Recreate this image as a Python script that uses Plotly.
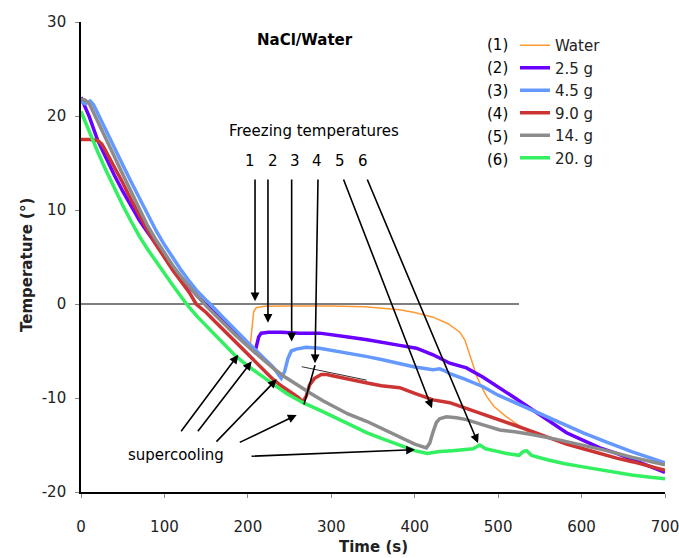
import plotly.graph_objects as go

# ---------------- data ----------------
series_names = ["Water", "2.5 g", "4.5 g", "9.0 g", "14. g", "20. g"]
series_nums = ["(1)", "(2)", "(3)", "(4)", "(5)", "(6)"]

t_water = [185, 195, 203, 205, 207, 210, 220, 250, 300, 340, 382, 400, 422, 440, 454,
           460, 466, 470, 474, 480, 486, 495, 510, 525, 538, 542]
T_water = [-3.2, -3.9, -4.3, -2.5, -0.8, -0.4, -0.25, -0.2, -0.2, -0.3, -0.6, -0.9, -1.4,
           -2.1, -3.0, -3.8, -5.3, -6.5, -7.6, -8.8, -9.8, -10.9, -12.0, -12.9, -13.7, -14.0]

t_25 = [0, 5, 10, 20, 30, 40, 50, 60, 70, 80, 90, 100, 110, 120, 130, 140, 150, 160, 170,
        180, 190, 200, 208, 210, 213, 216, 225, 240, 262, 286, 300, 320, 343, 360, 382, 402,
        422, 442, 462, 482, 502, 522, 542, 562, 582, 602, 622, 642, 662, 680, 700]
T_25 = [22.0, 21.0, 19.9, 17.4, 15.5, 13.7, 12.0, 10.4, 8.9, 7.6, 6.3, 5.1, 3.9, 2.8, 1.8,
        0.8, -0.1, -1.0, -1.9, -2.8, -3.6, -4.4, -5.1, -4.6, -3.5, -3.1, -3.0, -3.0, -3.1,
        -3.1, -3.3, -3.5, -3.8, -4.1, -4.4, -4.7, -5.4, -6.3, -6.8, -7.8, -8.9, -10.1, -11.3,
        -12.5, -13.7, -14.5, -15.3, -15.9, -16.6, -17.3, -17.9]

t_45 = [0, 5, 11, 15, 20, 30, 40, 50, 60, 70, 83, 90, 100, 110, 120, 130, 140, 150, 155,
        170, 185, 200, 215, 230, 240, 244, 248, 252, 258, 270, 286, 300, 320, 343, 360, 382,
        400, 422, 430, 436, 442, 460, 482, 500, 520, 542, 570, 602, 630, 660, 700]
T_45 = [21.5, 21.3, 21.6, 21.2, 20.3, 18.4, 16.6, 14.8, 13.0, 11.2, 8.9, 7.8, 6.3, 4.9, 3.6,
        2.4, 1.3, 0.4, 0.0, -1.4, -2.8, -4.1, -5.4, -6.7, -7.9, -7.2, -5.8, -5.0, -4.8, -4.6,
        -4.7, -4.9, -5.2, -5.6, -5.9, -6.3, -6.7, -7.0, -6.9, -7.1, -7.4, -8.0, -8.8, -9.7,
        -10.5, -11.3, -12.4, -13.7, -14.7, -15.7, -16.9]

t_90 = [0, 10, 20, 25, 30, 40, 50, 60, 70, 80, 90, 100, 110, 120, 130, 138, 150, 160, 170,
        180, 190, 200, 210, 220, 230, 240, 250, 260, 266, 270, 274, 280, 288, 295, 300, 320,
        343, 360, 382, 400, 422, 442, 462, 482, 502, 520, 542, 562, 582, 602, 622, 642, 662, 700]
T_90 = [17.5, 17.5, 17.4, 17.0, 16.2, 14.6, 12.9, 11.1, 9.4, 7.8, 6.3, 4.9, 3.6, 2.4, 1.2,
        0.0, -0.9, -1.8, -2.7, -3.6, -4.5, -5.4, -6.3, -7.1, -8.0, -8.7, -9.3, -9.9, -10.4,
        -9.8, -8.6, -7.9, -7.5, -7.5, -7.6, -8.0, -8.4, -8.7, -8.9, -9.5, -10.2, -10.5, -11.1,
        -11.7, -12.3, -12.9, -13.6, -14.3, -14.9, -15.4, -15.9, -16.4, -16.8, -17.7]

t_14 = [0, 5, 10, 20, 30, 40, 50, 60, 70, 80, 90, 100, 110, 120, 130, 140, 150, 160, 170,
        185, 200, 215, 230, 245, 260, 275, 290, 300, 320, 343, 360, 382, 400, 414, 418, 422,
        426, 430, 438, 450, 462, 480, 502, 520, 542, 570, 602, 630, 660, 700]
T_14 = [21.8, 21.7, 21.3, 19.5, 17.6, 15.7, 13.8, 11.9, 10.0, 8.3, 6.8, 5.4, 4.1, 2.9, 1.8,
        0.8, -0.2, -1.1, -2.0, -3.3, -4.5, -5.7, -6.8, -7.8, -8.7, -9.5, -10.3, -10.8, -11.7,
        -12.5, -13.2, -14.1, -14.9, -15.3, -14.8, -13.6, -12.6, -12.2, -12.0, -12.1, -12.3,
        -12.8, -13.4, -13.6, -13.9, -14.4, -15.0, -15.6, -16.3, -17.1]

t_20 = [0, 10, 20, 30, 40, 50, 60, 70, 80, 90, 100, 110, 124, 130, 140, 155, 170, 185, 200,
        215, 230, 246, 266, 286, 300, 320, 343, 360, 382, 400, 415, 430, 445, 460, 470, 478,
        485, 495, 510, 525, 530, 534, 540, 560, 580, 600, 620, 640, 660, 680, 700]
T_20 = [20.5, 18.3, 16.2, 14.2, 12.3, 10.5, 8.8, 7.2, 5.8, 4.5, 3.2, 2.0, 0.3, -0.4, -1.4,
        -2.8, -4.2, -5.5, -6.6, -7.6, -8.5, -9.5, -10.5, -11.3, -11.9, -12.8, -13.7, -14.3,
        -15.0, -15.6, -15.9, -15.7, -15.6, -15.5, -15.4, -15.0, -15.4, -15.6, -15.9, -16.1,
        -15.7, -15.6, -16.1, -16.6, -17.0, -17.3, -17.6, -17.9, -18.2, -18.4, -18.6]

x_ticks = [0, 100, 200, 300, 400, 500, 600, 700]
x_tick_text = ["0", "100", "200", "300", "400", "500", "600", "700"]
y_ticks = [-20, -10, 0, 10, 20, 30]
y_tick_text = ["-20", "-10", "0", "10", "20", "30"]

# annotation texts / anchor points (data units)
freeze_labels = ["1", "2", "3", "4", "5", "6"]
freeze_label_t = [202.6, 229.8, 256.5, 282.5, 310.4, 337.6]
freeze_label_T = 15.2
freeze_tail_t = [208.6, 224.1, 252.5, 284.1, 314.0, 342.4]
freeze_tail_T = 13.4
freeze_tip_t = [208.6, 224.1, 252.5, 280.5, 420.7, 475.9]
freeze_tip_T = [0.3, -2.0, -4.0, -6.3, -11.1, -14.8]

super_tail_t = [118.7, 138.7, 160.6, 188.5, 202.6]
super_tail_T = [-13.7, -13.7, -14.8, -14.8, -16.2]
super_tip_t = [188.5, 204.6, 234.6, 258.5, 400.3]
super_tip_T = [-5.4, -6.1, -8.0, -11.8, -15.5]

colors = ["#FF9933", "#6A00FF", "#6699FF", "#CC3333", "#8C8C8C", "#33F060"]
widths = [1.5, 3.5, 3.5, 3.5, 3.5, 3.5]

FONT = "DejaVu Sans"

fig = go.Figure()
all_t = [t_water, t_25, t_45, t_90, t_14, t_20]
all_T = [T_water, T_25, T_45, T_90, T_14, T_20]
for name, tt, TT, c, w in zip(series_names, all_t, all_T, colors, widths):
    fig.add_trace(go.Scatter(
        x=tt, y=TT, name=name, mode="lines",
        line=dict(color=c, width=w),
    ))

# zero reference line
fig.add_shape(type="line", x0=0, x1=525, y0=0, y1=0, xref="x", yref="y",
              line=dict(color="#555555", width=1.3), layer="below")
# tangent line over 9.0 g plateau
fig.add_shape(type="line", x0=264.5, y0=-6.67, x1=342.4, y1=-8.1, xref="x", yref="y",
              line=dict(color="#333333", width=1))
# continuation of arrow 4 to the supercooling minimum
fig.add_shape(type="line", x0=280.5, y0=-6.5, x1=267.3, y1=-10.7, xref="x", yref="y",
              line=dict(color="black", width=1.6))

W, H = 679, 558
L, T_ = 81, 22
pw, ph = 584, 470
R, B = W - L - pw, H - T_ - ph


def px(xw):   # window pixel x -> paper x
    return (xw - L) / pw


def py(yw):   # window pixel y -> paper y
    return 1 - (yw - T_) / ph


ann = []
ann.append(dict(x=268.5, y=28.1, text="<b>NaCl/Water</b>", showarrow=False,
                font=dict(size=15, family=FONT, color="black")))
ann.append(dict(x=279, y=18.4, text="Freezing temperatures", showarrow=False,
                font=dict(size=15, family=FONT, color="black")))
for lab, lt in zip(freeze_labels, freeze_label_t):
    ann.append(dict(x=lt, y=freeze_label_T, text=lab, showarrow=False,
                    font=dict(size=15, family=FONT, color="black")))
for tx, hx, hy in zip(freeze_tail_t, freeze_tip_t, freeze_tip_T):
    ann.append(dict(x=hx, y=hy, ax=tx, ay=freeze_tail_T, axref="x", ayref="y",
                    xref="x", yref="y", text="", showarrow=True, arrowhead=2,
                    arrowsize=1.1, arrowwidth=1.6, arrowcolor="black", standoff=0))
ann.append(dict(x=113.3, y=-16.1, text="supercooling", showarrow=False,
                font=dict(size=15, family=FONT, color="black")))
for tx, ty, hx, hy in zip(super_tail_t, super_tail_T, super_tip_t, super_tip_T):
    ann.append(dict(x=hx, y=hy, ax=tx, ay=ty, axref="x", ayref="y",
                    xref="x", yref="y", text="", showarrow=True, arrowhead=2,
                    arrowsize=1.1, arrowwidth=1.6, arrowcolor="black", standoff=0))
# legend numbering
for i, num in enumerate(series_nums):
    ann.append(dict(x=px(497), y=py(45 + i * 23), xref="paper", yref="paper",
                    xanchor="center", yanchor="middle", text=num, showarrow=False,
                    font=dict(size=15, family=FONT, color="black")))
# axis titles
ann.append(dict(x=px(373), y=py(547), xref="paper", yref="paper", xanchor="center",
                yanchor="middle", text="<b>Time (s)</b>", showarrow=False,
                font=dict(size=15, family=FONT, color="#222222")))
ann.append(dict(x=px(27), y=py(265), xref="paper", yref="paper", xanchor="center",
                yanchor="middle", text="<b>Temperature (°)</b>", textangle=-90,
                showarrow=False, font=dict(size=15, family=FONT, color="#222222")))

fig.update_layout(
    width=W, height=H,
    margin=dict(l=L, r=R, t=T_, b=B, autoexpand=False),
    paper_bgcolor="white", plot_bgcolor="white",
    font=dict(family=FONT, size=15, color="#222222"),
    annotations=ann,
    showlegend=True,
    legend=dict(x=px(515), y=py(29), xanchor="left", yanchor="top",
                bgcolor="rgba(0,0,0,0)", font=dict(size=15, family=FONT, color="#222222"),
                tracegroupgap=0),
    xaxis=dict(range=[0, 700], tickvals=x_ticks, ticktext=x_tick_text,
               showgrid=False, zeroline=False, ticklabeloverflow="allow",
               showline=True, linecolor="black", linewidth=1.6, ticks="outside",
               ticklen=4, tickcolor="#888888", ticklabelstandoff=16, automargin=False),
    yaxis=dict(range=[-20, 30], tickvals=y_ticks, ticktext=y_tick_text,
               showgrid=False, zeroline=False, ticklabeloverflow="allow",
               showline=True, linecolor="black", linewidth=1.6, ticks="outside",
               ticklen=4, tickcolor="#888888", ticklabelstandoff=6, automargin=False),
)

# remove the default 8px page margin so the figure fills the window exactly
fig.write_html("out.html",
               config={"displayModeBar": False},
               post_script="document.body.style.margin='0px';"
                           "document.body.style.overflow='hidden';")
